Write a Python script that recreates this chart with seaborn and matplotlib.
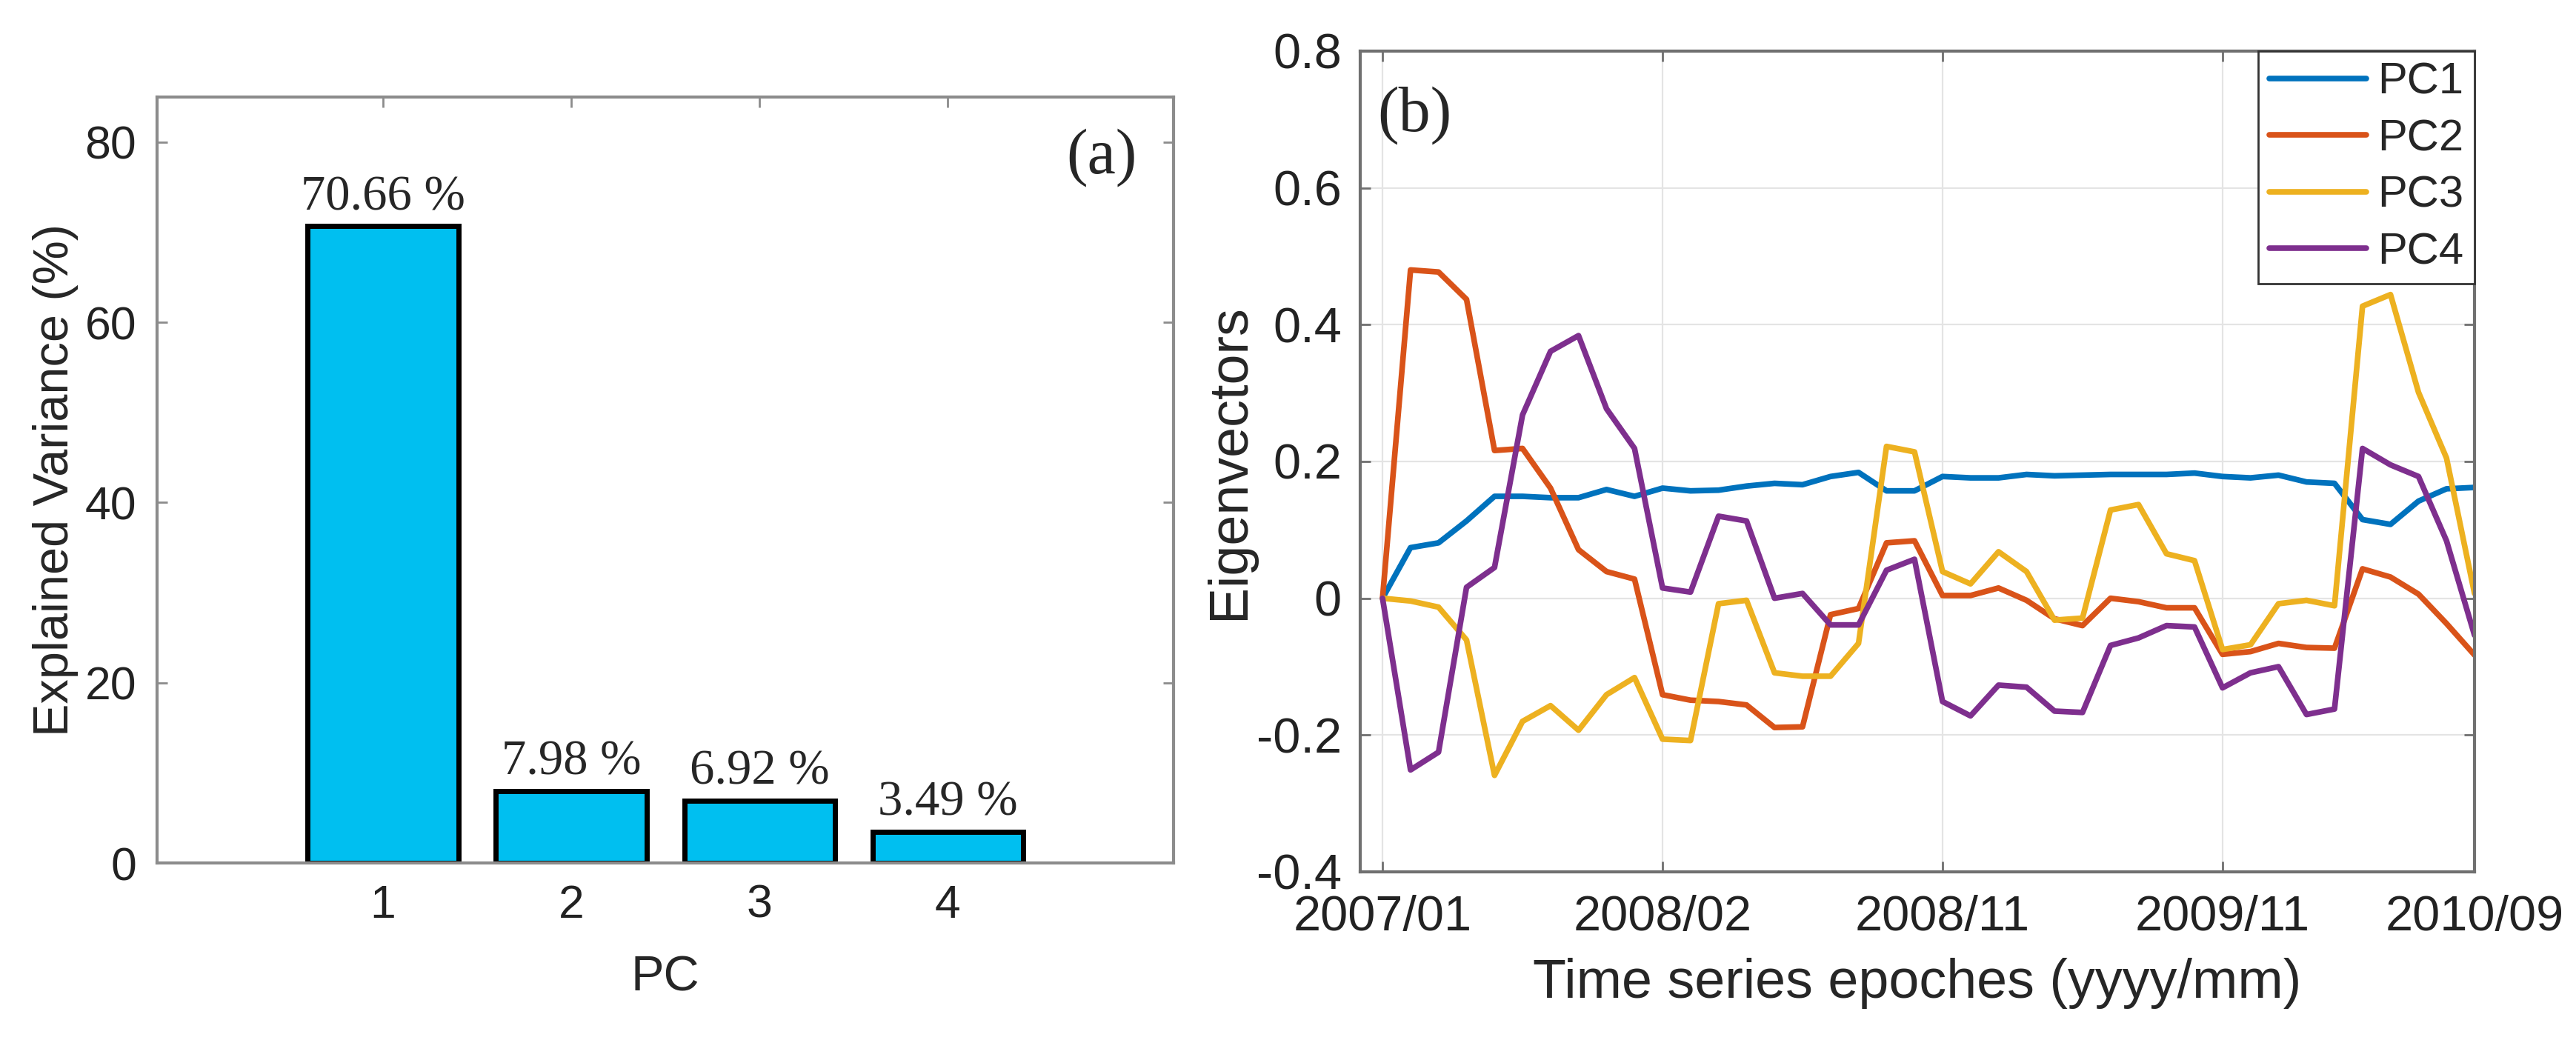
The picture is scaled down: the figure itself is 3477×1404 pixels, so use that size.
import matplotlib
matplotlib.use("Agg")
import matplotlib.pyplot as plt
import pandas as pd
import seaborn as sns

# explained variance per PC (panel a)
pcs = ["1", "2", "3", "4"]
variance = [70.66, 7.98, 6.92, 3.49]

# eigenvector time series (panel b), 40 epochs
pc1 = [0.000, 0.074, 0.081, 0.113, 0.149, 0.149, 0.147, 0.147, 0.159, 0.149,
       0.161, 0.157, 0.158, 0.164, 0.168, 0.166, 0.178, 0.184, 0.157, 0.157,
       0.178, 0.176, 0.176, 0.181, 0.179, 0.180, 0.181, 0.181, 0.181, 0.183,
       0.178, 0.176, 0.180, 0.170, 0.168, 0.115, 0.108, 0.142, 0.160, 0.162]
pc2 = [0.000, 0.480, 0.477, 0.437, 0.216, 0.219, 0.161, 0.071, 0.039, 0.028,
       -0.141, -0.149, -0.151, -0.156, -0.189, -0.188, -0.024, -0.015, 0.081, 0.084,
       0.004, 0.004, 0.015, -0.003, -0.030, -0.040, 0.000, -0.005, -0.014, -0.014,
       -0.082, -0.078, -0.066, -0.072, -0.073, 0.043, 0.031, 0.006, -0.037, -0.083]
pc3 = [0.000, -0.004, -0.013, -0.061, -0.259, -0.180, -0.157, -0.193, -0.141, -0.116,
       -0.206, -0.208, -0.008, -0.003, -0.109, -0.114, -0.114, -0.066, 0.222, 0.214,
       0.039, 0.021, 0.068, 0.039, -0.032, -0.029, 0.129, 0.137, 0.065, 0.055,
       -0.075, -0.068, -0.008, -0.003, -0.011, 0.427, 0.444, 0.301, 0.205, 0.007]
pc4 = [0.000, -0.251, -0.225, 0.016, 0.045, 0.268, 0.361, 0.384, 0.277, 0.219,
       0.015, 0.009, 0.120, 0.113, 0.000, 0.007, -0.039, -0.039, 0.041, 0.057,
       -0.151, -0.172, -0.127, -0.130, -0.165, -0.167, -0.069, -0.058, -0.040, -0.042,
       -0.131, -0.109, -0.100, -0.170, -0.162, 0.219, 0.195, 0.178, 0.084, -0.054]

epoch_ticks = [0, 10, 20, 30, 39]
epoch_labels = ["2007/01", "2008/02", "2008/11", "2009/11", "2010/09"]
y_ticks_b = [-0.4, -0.2, 0, 0.2, 0.4, 0.6, 0.8]
y_labels_b = ["-0.4", "-0.2", "0", "0.2", "0.4", "0.6", "0.8"]

sns.set_theme(style="white")
plt.rcParams["font.family"] = ["Liberation Sans", "DejaVu Sans"]

fig = plt.figure(figsize=(34.77, 14.04), dpi=100)

# ---- panel (a)
ax1 = fig.add_axes([0.061, 0.1702, 0.3946, 0.7365])
bar_df = pd.DataFrame({"PC": pcs, "Variance": variance})
sns.barplot(data=bar_df, x="PC", y="Variance", color="#00bff0", saturation=1,
            edgecolor="black", linewidth=5, width=0.8, ax=ax1)
for i, v in enumerate(variance):
    ax1.annotate(f"{v:.2f} %", (i, v), xytext=(0, 6), textcoords="offset points",
                 ha="center", va="bottom", fontsize=48, family="Liberation Serif")
ax1.set_xlim(-1.2, 4.2)
ax1.set_ylim(0, 85)
ax1.set_yticks([0, 20, 40, 60, 80])
ax1.set_xlabel("PC", fontsize=48, labelpad=27)
ax1.set_ylabel("Explained Variance (%)", fontsize=48, labelpad=6)
ax1.text(0.929, 0.921, "(a)", transform=ax1.transAxes, ha="center", va="center",
         fontsize=62, family="Liberation Serif")
for s in ax1.spines.values():
    s.set_color("#8c8c8c")
    s.set_linewidth(3)
ax1.tick_params(direction="in", length=10, width=2, color="#8c8c8c",
                labelsize=45, pad=20, top=True, right=True, left=True, bottom=True,
                labelcolor="#222222")

# ---- panel (b)
ax2 = fig.add_axes([0.528, 0.1617, 0.4326, 0.7892])
line_df = pd.DataFrame({
    "epoch": list(range(len(pc1))) * 4,
    "value": pc1 + pc2 + pc3 + pc4,
    "series": ["PC1"] * len(pc1) + ["PC2"] * len(pc2) + ["PC3"] * len(pc3) + ["PC4"] * len(pc4),
})
palette = {"PC1": "#0072BD", "PC2": "#D95319", "PC3": "#EDB120", "PC4": "#7E2F8E"}
sns.lineplot(data=line_df, x="epoch", y="value", hue="series", palette=palette,
             linewidth=5.5, ax=ax2)
ax2.set_xlim(-0.8, 39)
ax2.set_ylim(-0.4, 0.8)
ax2.set_xticks(epoch_ticks)
ax2.set_xticklabels(epoch_labels)
ax2.set_yticks(y_ticks_b)
ax2.set_yticklabels(y_labels_b)
ax2.grid(True, color="#e4e4e4", linewidth=1.6)
ax2.set_xlabel("Time series epoches (yyyy/mm)", fontsize=53, labelpad=17)
ax2.set_ylabel("Eigenvectors", fontsize=53, labelpad=1)
ax2.text(0.049, 0.922, "(b)", transform=ax2.transAxes, ha="center", va="center",
         fontsize=62, family="Liberation Serif")
for s in ax2.spines.values():
    s.set_color("#707070")
    s.set_linewidth(3)
ax2.tick_params(direction="in", length=10, width=2, color="#707070",
                labelsize=48, pad=18, top=True, right=True, left=True, bottom=True,
                labelcolor="#222222")
ax2.tick_params(axis="x", pad=22)
leg = ax2.legend(loc="upper right", borderaxespad=0, fontsize=43, handlelength=2.2,
                 handletextpad=0.25, labelspacing=0.36, borderpad=0.25,
                 fancybox=False, framealpha=1, edgecolor="#333333")
leg.get_frame().set_linewidth(2)
leg.set_title(None)

fig.savefig("out.png", dpi=100, facecolor="white")
